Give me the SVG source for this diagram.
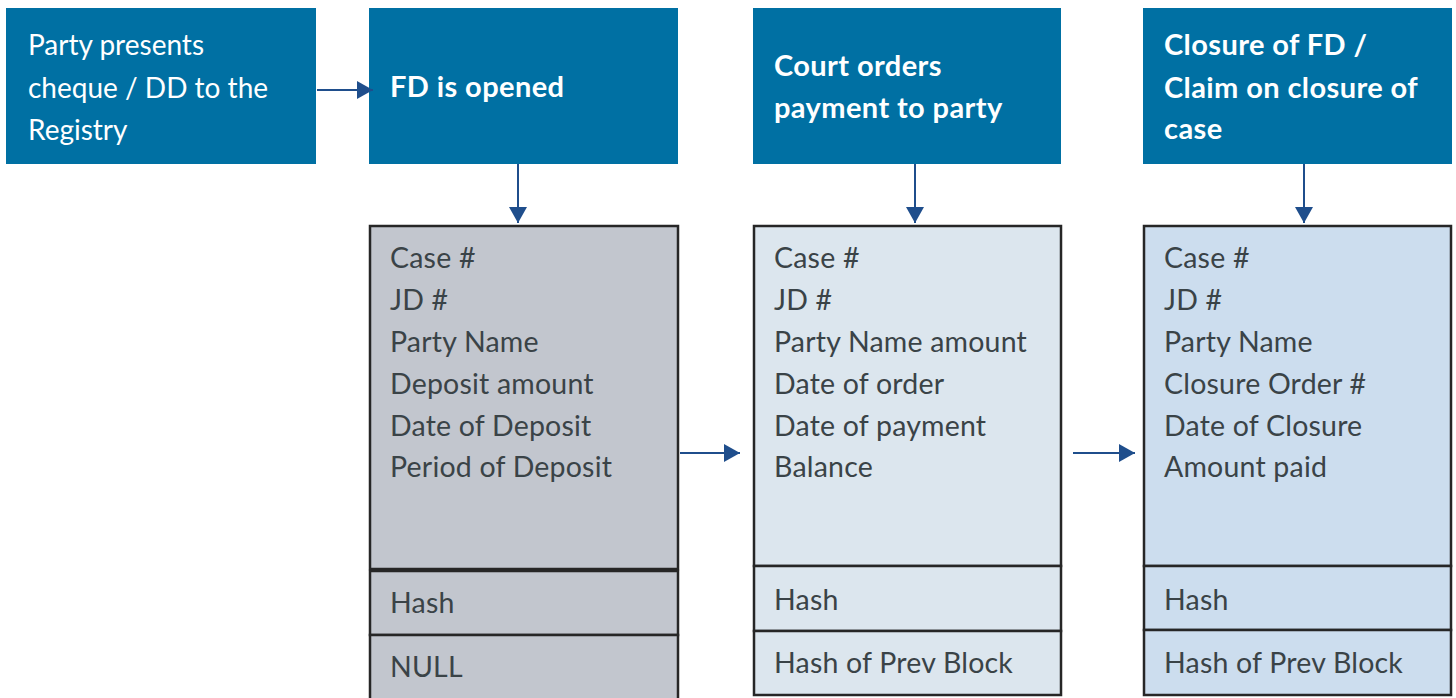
<svg xmlns="http://www.w3.org/2000/svg" width="1456" height="698" viewBox="0 0 1456 698">
<defs>
<marker id="ah" markerWidth="16" markerHeight="18" refX="16" refY="9" orient="auto" markerUnits="userSpaceOnUse" viewBox="0 0 16 18">
<path d="M0,0 L16,9 L0,18 Z" fill="#1F4E8C"/>
</marker>
<style>
.hb{fill:#0070A3}
.ht{font-family:Lato,"Liberation Sans",sans-serif;font-size:28px;fill:#fff}
.hbold{font-weight:bold;font-size:29px;letter-spacing:0.4px}
.rt{font-family:Lato,"Liberation Sans",sans-serif;font-size:28.5px;fill:#3A4347;letter-spacing:0.2px}
.rec{stroke:#262626;stroke-width:2.5}
.a{fill:#C2C6CE}
.b{fill:#DCE6EE}
.c{fill:#CCDDEE}
.con{stroke:#1F4E8C;stroke-width:2;fill:none}
</style>
</defs>
<rect width="1456" height="698" fill="#fff"/>
<g id="step1">
<rect class="hb" x="6" y="8" width="310" height="156"/>
<text class="ht" x="28" y="55">Party presents</text>
<text class="ht" x="28" y="98">cheque / DD to the</text>
<text class="ht" x="28" y="140">Registry</text>
</g>
<g id="step2">
<rect class="hb" x="369" y="8" width="309" height="156"/>
<text class="ht hbold" x="390" y="97">FD is opened</text>
</g>
<g id="step3">
<rect class="hb" x="753" y="8" width="308" height="156"/>
<text class="ht hbold" x="774" y="76">Court orders</text>
<text class="ht hbold" x="774" y="118">payment to party</text>
</g>
<g id="step4">
<rect class="hb" x="1143" y="8" width="309" height="156"/>
<text class="ht hbold" x="1164" y="55">Closure of FD /</text>
<text class="ht hbold" x="1164" y="98">Claim on closure of</text>
<text class="ht hbold" x="1164" y="139">case</text>
</g>
<g id="blockA">
<rect class="rec a" x="370" y="226" width="308" height="343"/>
<rect class="rec a" x="370" y="571" width="308" height="64"/>
<rect class="rec a" x="370" y="635" width="308" height="70"/>
<text class="rt" x="390" y="268">Case #</text>
<text class="rt" x="390" y="310">JD #</text>
<text class="rt" x="390" y="352">Party Name</text>
<text class="rt" x="390" y="394">Deposit amount</text>
<text class="rt" x="390" y="436">Date of Deposit</text>
<text class="rt" x="390" y="477">Period of Deposit</text>
<text class="rt" x="390" y="613">Hash</text>
<text class="rt" x="390" y="677">NULL</text>
</g>
<g id="blockB">
<rect class="rec b" x="754" y="226" width="307" height="340"/>
<rect class="rec b" x="754" y="566" width="307" height="65"/>
<rect class="rec b" x="754" y="631" width="307" height="64"/>
<text class="rt" x="774" y="268">Case #</text>
<text class="rt" x="774" y="310">JD #</text>
<text class="rt" x="774" y="352">Party Name amount</text>
<text class="rt" x="774" y="394">Date of order</text>
<text class="rt" x="774" y="436">Date of payment</text>
<text class="rt" x="774" y="477">Balance</text>
<text class="rt" x="774" y="610">Hash</text>
<text class="rt" x="774" y="673">Hash of Prev Block</text>
</g>
<g id="blockC">
<rect class="rec c" x="1144" y="226" width="307" height="340"/>
<rect class="rec c" x="1144" y="566" width="307" height="64"/>
<rect class="rec c" x="1144" y="630" width="307" height="65"/>
<text class="rt" x="1164" y="268">Case #</text>
<text class="rt" x="1164" y="310">JD #</text>
<text class="rt" x="1164" y="352">Party Name</text>
<text class="rt" x="1164" y="394">Closure Order #</text>
<text class="rt" x="1164" y="436">Date of Closure</text>
<text class="rt" x="1164" y="477">Amount paid</text>
<text class="rt" x="1164" y="610">Hash</text>
<text class="rt" x="1164" y="673">Hash of Prev Block</text>
</g>
<g id="connectors">
<path class="con" d="M317,90 H373" marker-end="url(#ah)"/>
<path class="con" d="M518,164 V223" marker-end="url(#ah)"/>
<path class="con" d="M915,164 V223" marker-end="url(#ah)"/>
<path class="con" d="M1304,164 V223" marker-end="url(#ah)"/>
<path class="con" d="M680,453 H740" marker-end="url(#ah)"/>
<path class="con" d="M1073,453 H1135" marker-end="url(#ah)"/>
</g>
</svg>
